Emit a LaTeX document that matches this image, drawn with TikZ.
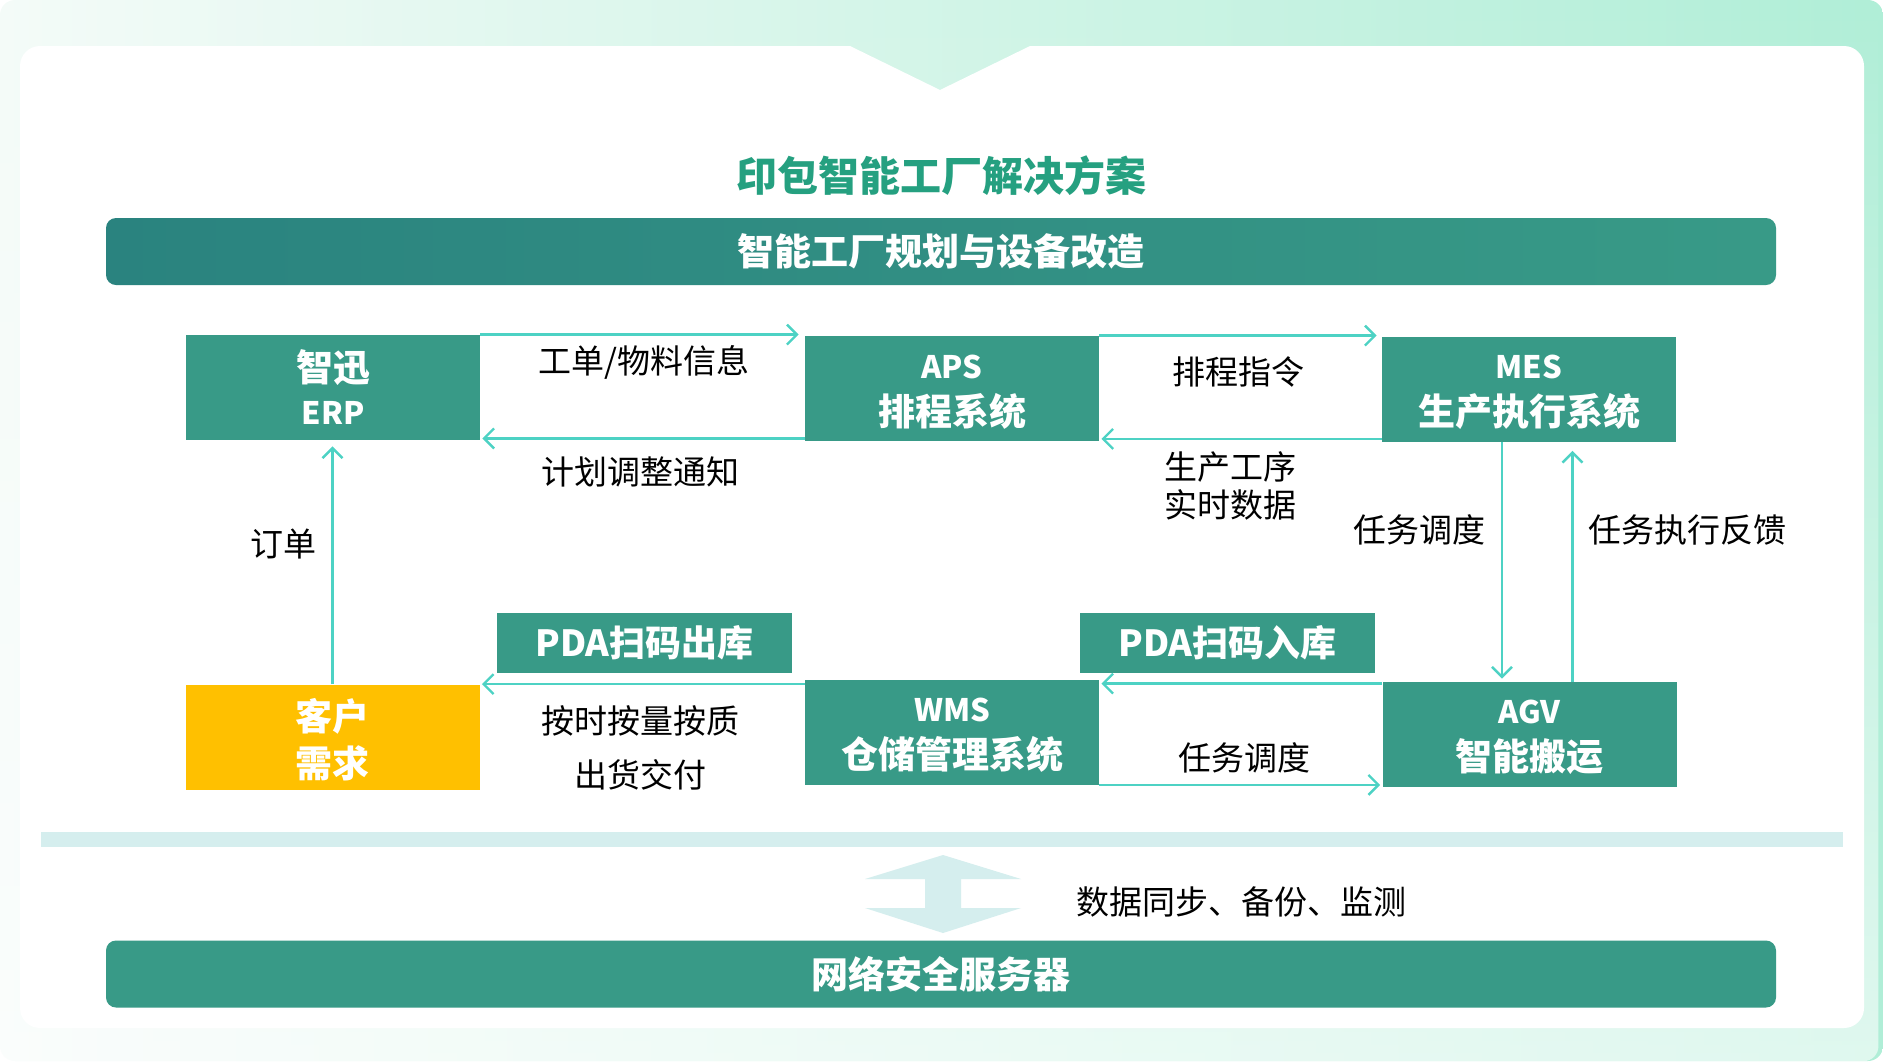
\documentclass[tikz,border=0pt]{standalone}
\usepackage{fontspec}
\setmainfont{Noto Sans CJK SC}
\usetikzlibrary{arrows.meta,fadings}
\definecolor{boxgreen}{HTML}{389A87}
\definecolor{bardark}{HTML}{2A837F}
\definecolor{titlegreen}{HTML}{25A080}
\definecolor{flowcyan}{HTML}{4DD2C4}
\definecolor{paleband}{HTML}{D5EEEE}
\definecolor{custyellow}{HTML}{FFC000}
\definecolor{bgleft}{HTML}{F4FBF8}
\definecolor{bgright}{HTML}{B0EED7}

\begin{document}
\begin{tikzpicture}[x=0.5pt,y=-0.5pt]
\tikzset{sysbox/.style={fill=boxgreen,text=white,minimum width=147pt,minimum height=52.5pt,
                        align=center,inner sep=0pt,font=\bfseries\fontsize{18.5}{23.5}\selectfont},
         pdabox/.style={fill=boxgreen,text=white,minimum width=147.5pt,minimum height=30pt,
                        inner sep=0pt,font=\bfseries\fontsize{18}{22}\selectfont},
         barbox/.style={text=white,minimum width=835pt,minimum height=33.5pt,rounded corners=5pt,
                        inner sep=0pt,font=\bfseries\fontsize{18.5}{22}\selectfont},
         flow/.style={draw=flowcyan,line width=1.2pt,-{Straight Barb[length=5pt,width=10pt]}},
         lbl/.style={align=center,inner sep=0pt,font=\fontsize{16.5}{19}\selectfont}}
\newcommand{\latn}[1]{\rule{0pt}{15pt}{\fontsize{15.5}{23.5}\selectfont #1}}
\useasboundingbox (0,0) rectangle (1883,1061);
% background + white panel with notch
\shade[left color=bgleft,right color=bgright,rounded corners=7.5pt] (0,0) rectangle (1883,1061);
\fill[white,path fading=north,fill opacity=0.6,rounded corners=7.5pt] (0,0) rectangle (1883,1061);
\fill[white] (850,46) [rounded corners=10pt] -- (20,46) -- (20,1028) -- (1864,1028) -- (1864,46)
    [sharp corners] -- (1030,46) -- (940,90) -- cycle;

\node[font=\bfseries\fontsize{20.5}{24}\selectfont,text=titlegreen] (title) at (941,176) {印包智能工厂解决方案};
\node[barbox,left color=bardark,right color=boxgreen] (plan) at (941,251.5) {智能工厂规划与设备改造};

\node[sysbox] (erp) at (333,387.5) {智迅\\[-2pt]{\fontsize{15.5}{23.5}\selectfont ERP}};
\node[sysbox] (aps) at (952,388.5) {\latn{APS}\\排程系统};
\node[sysbox] (mes) at (1529,389) {\latn{MES}\\生产执行系统};
\node[sysbox,fill=custyellow] (cust) at (332.5,737) {\rule{0pt}{19pt}客户\\需求};
\node[sysbox] (wms) at (952,732) {\latn{WMS}\\仓储管理系统};
\node[sysbox] (agv) at (1529.5,734.5) {\latn{AGV}\\智能搬运};
\node[pdabox] (pdaout) at (644.5,643) {PDA扫码出库};
\node[pdabox] (pdain) at (1227.5,643) {PDA扫码入库};

\draw[flow,shorten >=3pt] (erp.north east) -- (erp.north east -| aps.west);
\draw[flow,shorten >=1pt] ([yshift=1.5pt]aps.south west) -- ([yshift=1.5pt]aps.south west -| erp.east);
\draw[flow,shorten >=2.5pt] (aps.north east) -- (aps.north east -| mes.west);
\draw[flow,shorten >=1pt] ([yshift=1.5pt]mes.south west) -- ([yshift=1.5pt]mes.south west -| aps.east);
\draw[flow,shorten >=1.5pt] ([xshift=-13.5pt]mes.south) -- ([xshift=-13.5pt]mes.south |- agv.north);
\draw[flow,shorten >=4.5pt] ([xshift=21.5pt]agv.north) -- ([xshift=21.5pt]agv.north |- mes.south);
\draw[flow,shorten >=3pt] (cust.north) -- (cust.north |- erp.south);
\draw[flow,shorten >=1pt] ([yshift=-2.5pt]wms.north west) -- ([yshift=-2.5pt]wms.north west -| cust.east);
\draw[flow,shorten >=1pt] ([yshift=-1pt]agv.north west) -- ([yshift=-1pt]agv.north west -| wms.east);
\draw[flow,shorten >=1pt] (wms.south east) -- (wms.south east -| agv.west);

\node[lbl] (lblorder) at (644,362) {工单/物料信息};
\node[lbl] (lblplan) at (640,472) {计划调整通知};
\node[lbl] (lblsched) at (1238,372) {排程指令};
\node[lbl] (lbldata) at (1230,486) {生产工序\\实时数据};
\node[lbl] (lbltask) at (1419,530) {任务调度};
\node[lbl] (lblfeed) at (1687,530) {任务执行反馈};
\node[lbl] (lblcust) at (283,544) {订单};
\node[lbl] (lbldeliv) at (640,747.5) {按时按量按质\\[8pt]出货交付};
\node[lbl] (lbltask2) at (1244,758) {任务调度};

% data link to server
\fill[paleband] (41,832) rectangle (1843,847);
\fill[paleband] (943,855) -- (1021,879) -- (961,879) -- (961,908) -- (1021,908) -- (943,933)
    -- (865,908) -- (925,908) -- (925,879) -- (865,879) -- cycle;
\node[lbl] (lblsync) at (1241,902) {数据同步、备份、监测};
\node[barbox,fill=boxgreen] (server) at (941,974) {网络安全服务器};
\end{tikzpicture}
\end{document}
